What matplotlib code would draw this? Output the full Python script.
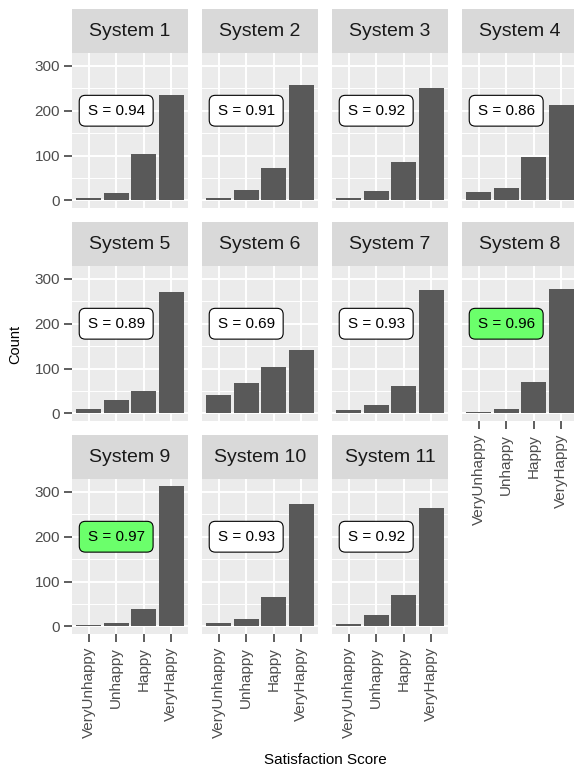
import numpy as np
import matplotlib.pyplot as plt
from matplotlib.ticker import FixedLocator

plt.rcParams['font.family'] = ['Liberation Sans', 'DejaVu Sans']

# satisfaction counts per system
levels = ["VeryUnhappy", "Unhappy", "Happy", "VeryHappy"]
systems = ["System %d" % i for i in range(1, 12)]
very_unhappy = [6, 6, 6, 19, 9, 42, 8, 3, 4, 7, 5]
unhappy = [17, 24, 21, 28, 31, 68, 19, 11, 8, 16, 25]
happy = [104, 72, 86, 96, 51, 103, 61, 70, 39, 66, 70]
very_happy = [236, 258, 250, 212, 271, 142, 275, 277, 313, 274, 263]
scores = [0.94, 0.91, 0.92, 0.86, 0.89, 0.69, 0.93, 0.96, 0.97, 0.93, 0.92]
highlight_cut = 0.95

W, H = 574, 768
fig = plt.figure(figsize=(W / 100, H / 100), dpi=100)

def rect(x, y, w, h):
    return [x / W, 1 - (y + h) / H, w / W, h / H]

col_x = [72, 202, 332, 462]
strip_top = [9, 222, 435]
panel_w, strip_h, panel_h = 116, 44, 154.5

ymax = max(max(very_unhappy), max(unhappy), max(happy), max(very_happy))
pad = 0.05 * ymax
xs = np.arange(len(levels))

for i, name in enumerate(systems):
    r, c = divmod(i, 4)
    vals = [very_unhappy[i], unhappy[i], happy[i], very_happy[i]]

    # strip
    sax = fig.add_axes(rect(col_x[c], strip_top[r], panel_w, strip_h))
    sax.set_facecolor('#D9D9D9')
    sax.set_xticks([])
    sax.set_yticks([])
    for sp in sax.spines.values():
        sp.set_visible(False)
    sax.text(0.5, 0.5, name, ha='center', va='center', fontsize=14,
             color='#1A1A1A', transform=sax.transAxes)

    # panel
    ax = fig.add_axes(rect(col_x[c], strip_top[r] + strip_h, panel_w, panel_h))
    ax.set_facecolor('#EBEBEB')
    ax.set_axisbelow(True)
    ax.bar(xs, vals, width=0.9, color='#595959')
    ax.set_xlim(-0.6, len(levels) - 0.4)
    ax.set_ylim(-pad, ymax + pad)
    ax.set_xticks(xs)
    ax.set_yticks([0, 100, 200, 300])
    ax.yaxis.set_minor_locator(FixedLocator([50, 150, 250]))
    ax.grid(which='major', color='white', lw=1.4)
    ax.grid(which='minor', axis='y', color='white', lw=0.7)
    ax.tick_params(which='minor', length=0)
    for sp in ax.spines.values():
        sp.set_visible(False)
    ax.tick_params(length=5.5, width=1.1, color='#333333', labelsize=11,
                   labelcolor='#4D4D4D', pad=3)
    ax.tick_params(axis='x', pad=4)

    if c == 0:
        ax.set_yticklabels(['0', '100', '200', '300'])
    else:
        ax.tick_params(axis='y', length=0, labelleft=False)

    if i >= len(systems) - 4:
        ax.set_xticklabels(levels, rotation=90, ha='center', va='top')
    else:
        ax.tick_params(axis='x', length=0, labelbottom=False)

    fc = '#6BFF6B' if scores[i] > highlight_cut else 'white'
    ax.text(1, 200, "S = %.2f" % scores[i], ha='center', va='center',
            fontsize=11, color='black',
            bbox=dict(boxstyle='round,pad=0.55,rounding_size=0.4',
                      fc=fc, ec='black', lw=0.8))

fig.text(15 / W, 1 - 344 / H, 'Count', rotation=90, ha='center',
         va='center', fontsize=10.5)
fig.text(325 / W, 1 - 760 / H, 'Satisfaction Score', ha='center',
         va='center', fontsize=11)

fig.savefig('out.png', dpi=100)
